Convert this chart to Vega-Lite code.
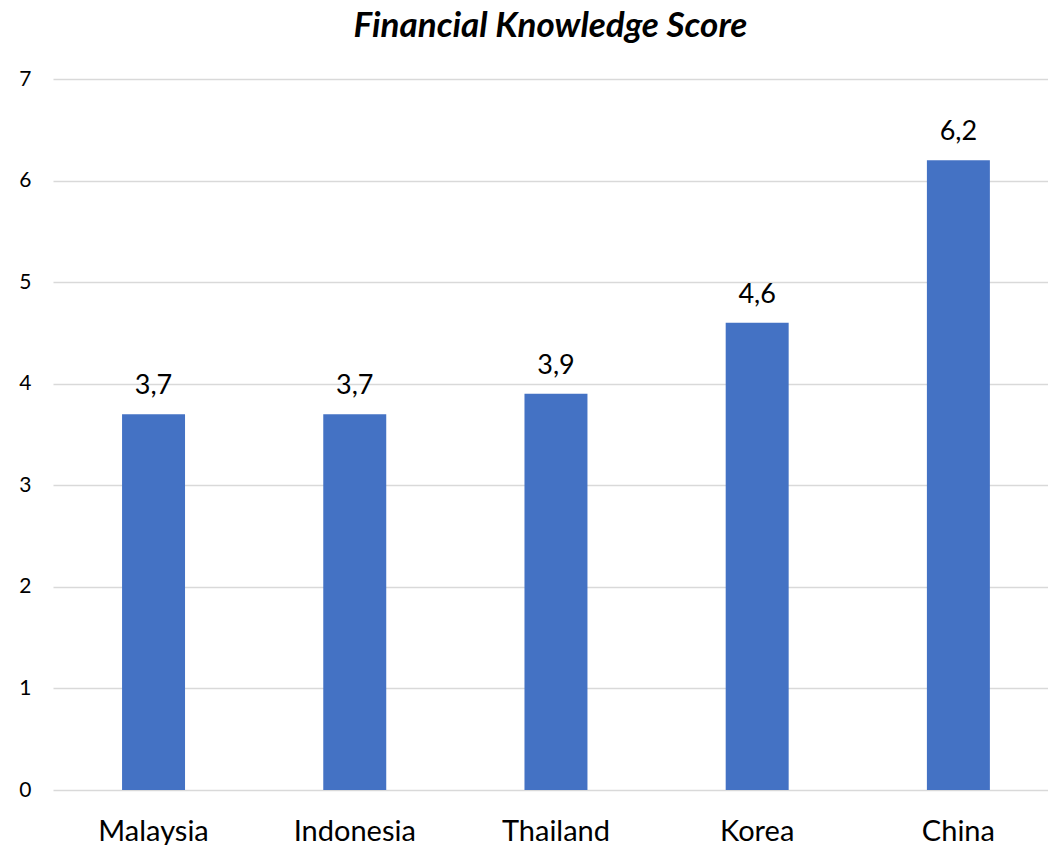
{
  "$schema": "https://vega.github.io/schema/vega-lite/v6.json",
  "width": 995,
  "height": 711,
  "autosize": {"type": "none"},
  "padding": {"left": 53, "top": 79, "right": 0, "bottom": 55},
  "background": "white",
  "config": {
    "view": {"stroke": null},
    "font": "Lato",
    "locale": {"number": {"decimal": ",", "thousands": ".", "grouping": [3], "currency": ["", "€"]}}
  },
  "title": {
    "text": "Financial Knowledge Score",
    "font": "Lato",
    "fontSize": 35,
    "fontWeight": "bold",
    "fontStyle": "italic",
    "color": "#000000",
    "anchor": "middle",
    "baseline": "alphabetic",
    "offset": 30,
    "dy": 34
  },
  "data": {
    "values": [
      {"country": "Malaysia", "score": 3.7},
      {"country": "Indonesia", "score": 3.7},
      {"country": "Thailand", "score": 3.9},
      {"country": "Korea", "score": 4.6},
      {"country": "China", "score": 6.2}
    ]
  },
  "encoding": {
    "x": {
      "field": "country",
      "type": "nominal",
      "sort": null,
      "scale": {"paddingInner": 0.687, "paddingOuter": 0.316, "align": 0.543},
      "axis": {
        "title": null,
        "labelAngle": 0,
        "labelFontSize": 29,
        "labelColor": "#000000",
        "labelPadding": 27,
        "ticks": false,
        "domain": false
      }
    },
    "y": {
      "field": "score",
      "type": "quantitative",
      "scale": {"domain": [0, 7]},
      "axis": {
        "title": null,
        "tickCount": 7,
        "labelFontSize": 21,
        "labelColor": "#000000",
        "labelPadding": 22,
        "ticks": false,
        "domain": false,
        "gridColor": "#d9d9d9",
        "gridWidth": 1.5
      }
    }
  },
  "layer": [
    {"mark": {"type": "bar", "color": "#4472C4"}},
    {
      "mark": {"type": "text", "fontSize": 27, "color": "#000000", "baseline": "alphabetic", "dy": -20},
      "encoding": {"text": {"field": "score", "type": "quantitative", "format": ".1f"}}
    }
  ]
}
